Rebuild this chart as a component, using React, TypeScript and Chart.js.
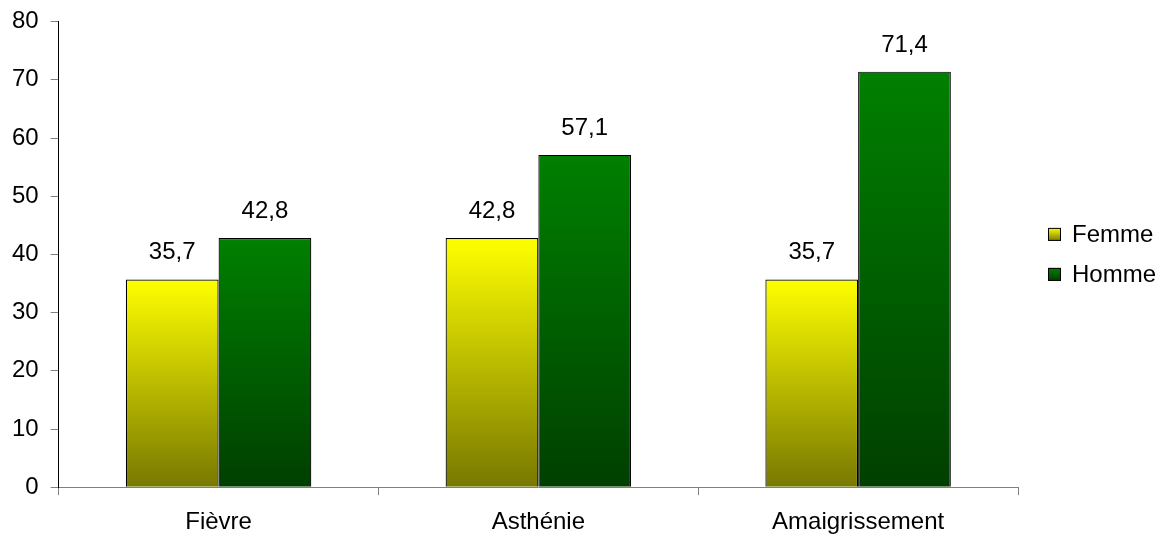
import React, { useEffect, useRef } from "react";
import { Chart, registerables } from "chart.js";

Chart.register(...registerables);

const categories = ["Fièvre", "Asthénie", "Amaigrissement"];
const femme = [35.7, 42.8, 35.7];
const homme = [42.8, 57.1, 71.4];
const femmeLabels = ["35,7", "42,8", "35,7"];
const hommeLabels = ["42,8", "57,1", "71,4"];
const seriesNames = ["Femme", "Homme"];
const seriesTop = ["#ffff00", "#008000"];
const seriesBottom = ["#787800", "#003f00"];

const FONT = "'Liberation Sans', Arial, sans-serif";
const FS = 24;

function barGradient(ctx: any, top: string, bottom: string) {
  const chart = ctx.chart;
  const { chartArea } = chart;
  if (!chartArea) return top;
  const yScale = chart.scales.y;
  const v = ctx.raw as number;
  const yTop = yScale.getPixelForValue(v);
  const yBot = yScale.getPixelForValue(0);
  const g = chart.ctx.createLinearGradient(0, yTop, 0, yBot);
  g.addColorStop(0, top);
  g.addColorStop(1, bottom);
  return g;
}

const valueLabels = {
  id: "valueLabels",
  afterDatasetsDraw(chart: any) {
    const ctx = chart.ctx;
    ctx.save();
    ctx.font = `${FS}px ${FONT}`;
    ctx.fillStyle = "#000";
    ctx.textAlign = "center";
    ctx.textBaseline = "alphabetic";
    chart.data.datasets.forEach((ds: any, di: number) => {
      const meta = chart.getDatasetMeta(di);
      const labels = di === 0 ? femmeLabels : hommeLabels;
      meta.data.forEach((el: any, i: number) => {
        ctx.fillText(labels[i], el.x, el.y - 20);
      });
    });
    ctx.restore();
  },
};

const customLegend = {
  id: "customLegend",
  afterDraw(chart: any) {
    const ctx = chart.ctx;
    const ca = chart.chartArea;
    const box = 13;
    const x = ca.right + 30;
    const mid = (ca.top + ca.bottom) / 2;
    const rowH = 40;
    ctx.save();
    ctx.font = `${FS}px ${FONT}`;
    ctx.textBaseline = "middle";
    ctx.textAlign = "left";
    seriesNames.forEach((name, i) => {
      const cy = mid + (i - (seriesNames.length - 1) / 2) * rowH;
      const y0 = cy - box / 2;
      const g = ctx.createLinearGradient(0, y0, 0, y0 + box);
      g.addColorStop(0, seriesTop[i]);
      g.addColorStop(1, seriesBottom[i]);
      ctx.fillStyle = g;
      ctx.fillRect(x, y0, box, box);
      ctx.strokeStyle = "#000";
      ctx.lineWidth = 1;
      ctx.strokeRect(x + 0.5, y0 + 0.5, box - 1, box - 1);
      ctx.fillStyle = "#000";
      ctx.fillText(name, x + 24, cy + 1);
    });
    ctx.restore();
  },
};

export default function App() {
  const ref = useRef<HTMLCanvasElement>(null);
  useEffect(() => {
    document.body.style.margin = "0";
    const chart = new Chart(ref.current!, {
      type: "bar",
      data: {
        labels: categories,
        datasets: [0, 1].map((i) => ({
          label: seriesNames[i],
          data: i === 0 ? femme : homme,
          backgroundColor: (c: any) => barGradient(c, seriesTop[i], seriesBottom[i]),
          borderColor: "#000",
          borderWidth: 1.2,
          categoryPercentage: 0.58,
          barPercentage: 1,
        })),
      },
      options: {
        animation: false,
        responsive: true,
        maintainAspectRatio: false,
        layout: { padding: { top: 0, left: 0, right: 146, bottom: -13 } },
        plugins: {
          tooltip: { enabled: false },
          legend: { display: false },
        },
        scales: {
          x: {
            grid: {
              display: true,
              drawOnChartArea: false,
              drawTicks: true,
              tickLength: 8,
              color: "#808080",
              offset: true,
            },
            border: { color: "#808080", width: 1 },
            ticks: { color: "#000", font: { family: FONT, size: FS }, padding: 13, maxRotation: 0 },
          },
          y: {
            min: 0,
            max: 80,
            ticks: {
              stepSize: 10,
              color: "#000",
              font: { family: FONT, size: FS, lineHeight: 0.8 },
              padding: 12,
            },
            grid: {
              display: true,
              drawOnChartArea: false,
              drawTicks: true,
              tickLength: 8,
              color: "#808080",
            },
            border: { color: "#000", width: 1 },
          },
        },
      },
      plugins: [valueLabels, customLegend],
    });
    return () => chart.destroy();
  }, []);
  return (
    <div style={{ position: "fixed", left: 0, top: 0, width: 1164, height: 537, background: "#fff" }}>
      <canvas ref={ref} />
    </div>
  );
}
